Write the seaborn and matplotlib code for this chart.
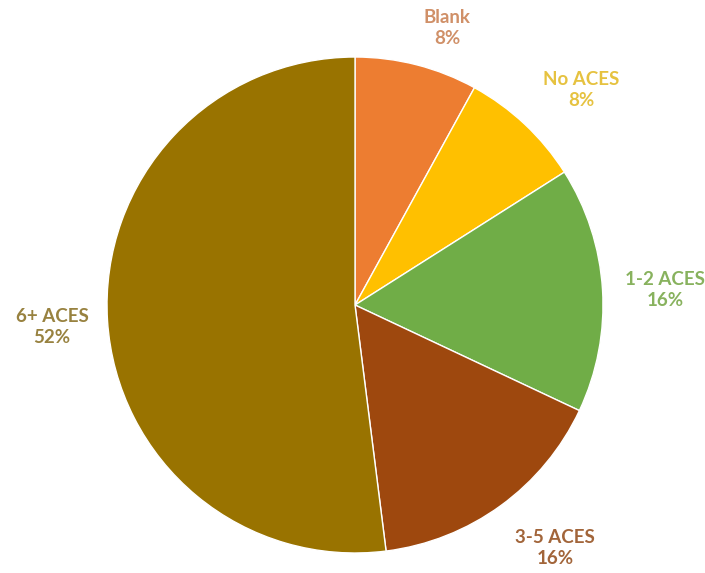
import matplotlib
matplotlib.use("Agg")
import matplotlib.pyplot as plt
import seaborn as sns

categories = ['Blank', 'No ACES', '1-2 ACES', '3-5 ACES', '6+ ACES']
shares = [8, 8, 16, 16, 52]
slice_colors = ['#ED7D31', '#FFC000', '#70AD47', '#9E480E', '#997300']
label_colors = ['#D09068', '#E6C240', '#88B25E', '#A2653A', '#988240']

# label centres (axes data units, pie radius = 1)
label_pos = [(0.371, 1.117), (0.911, 0.867), (1.25, 0.06), (0.806, -0.98), (-1.222, -0.089)]

sns.set_theme(style="white")
plt.rcParams['font.family'] = ['Lato', 'DejaVu Sans']

fig = plt.figure(figsize=(7.05, 5.73), dpi=100)
ax = fig.add_axes([0.1518, 0.0349, 0.7035, 0.8656])

wedges, texts = ax.pie(shares, colors=slice_colors, startangle=90, counterclock=False,
                       labels=[f"{c}\n{s}%" for c, s in zip(categories, shares)],
                       wedgeprops=dict(edgecolor='white', linewidth=1))
for t, col, (x, y) in zip(texts, label_colors, label_pos):
    t.set_position((x, y))
    t.set_ha('center')
    t.set_va('center')
    t.set_color(col)
    t.set_fontsize(13.5)
    t.set_fontweight('bold')
    t.set_linespacing(1.3)
    t.set_clip_on(False)

ax.set_xlim(-1, 1)
ax.set_ylim(-1, 1)
ax.set_aspect('auto')
ax.axis('off')

plt.savefig('out.png', dpi=100)
plt.close()
